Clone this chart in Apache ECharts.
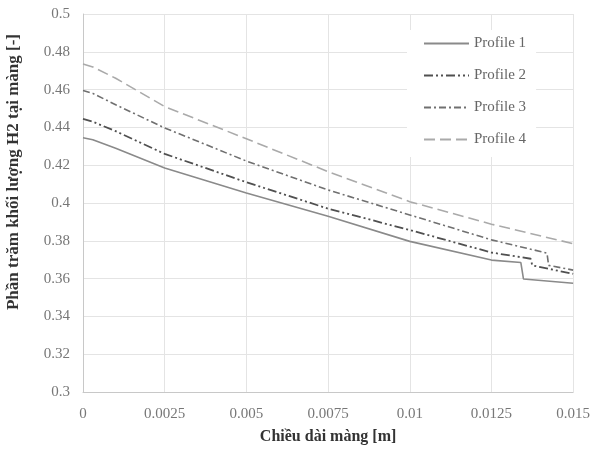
<!DOCTYPE html>
<html><head><meta charset="utf-8">
<script src="https://cdn.jsdelivr.net/npm/echarts@6/dist/echarts.min.js"></script>
<style>html,body{margin:0;padding:0;background:#fff}#c{width:593px;height:454px}</style>
</head><body><div id="c"></div>
<script>
const seriesNames = ['Profile 1', 'Profile 2', 'Profile 3', 'Profile 4'];
const p1X = [0, 0.0003, 0.001, 0.0025, 0.005, 0.0075, 0.01, 0.0125, 0.0134, 0.01348, 0.015];
const p1Y = [0.4345, 0.4335, 0.429, 0.4185, 0.4053, 0.393, 0.3797, 0.3698, 0.3685, 0.3598, 0.3575];
const p2X = [0, 0.0003, 0.001, 0.0025, 0.005, 0.0075, 0.01, 0.0125, 0.0137, 0.01375, 0.015];
const p2Y = [0.4445, 0.443, 0.438, 0.426, 0.411, 0.397, 0.3857, 0.3738, 0.3705, 0.367, 0.3625];
const p3X = [0, 0.0003, 0.001, 0.0025, 0.005, 0.0075, 0.01, 0.0125, 0.0142, 0.01425, 0.015];
const p3Y = [0.4595, 0.458, 0.452, 0.4397, 0.4222, 0.4069, 0.3937, 0.3805, 0.3735, 0.367, 0.3645];
const p4X = [0, 0.0003, 0.001, 0.0025, 0.005, 0.0075, 0.01, 0.0125, 0.015];
const p4Y = [0.4735, 0.472, 0.466, 0.451, 0.434, 0.4166, 0.4007, 0.3888, 0.3785];
const xTicks = [0, 0.0025, 0.005, 0.0075, 0.01, 0.0125, 0.015];
const yTicks = [0.3, 0.32, 0.34, 0.36, 0.38, 0.4, 0.42, 0.44, 0.46, 0.48, 0.5];
const xTitle = 'Chiều dài màng [m]';
const yTitle = 'Phần trăm khối lượng H2 tại màng [-]';

const pair = (xs, ys) => xs.map((x, i) => [x, ys[i]]);
const styles = [
  {color: '#8a8a8a', type: 'solid', width: 1.6},
  {color: '#505050', type: [9, 3, 2, 3, 2, 3], width: 1.8},
  {color: '#707070', type: [7, 3, 2, 3], width: 1.6},
  {color: '#aaaaaa', type: [11, 5], width: 1.6}
];
const datas = [pair(p1X, p1Y), pair(p2X, p2Y), pair(p3X, p3Y), pair(p4X, p4Y)];
const font = 'Liberation Serif';
const chart = echarts.init(document.getElementById('c'));
chart.setOption({
  animation: false,
  grid: {left: 83, right: 18, top: 14, bottom: 62},
  legend: {
    orient: 'vertical', left: 407, top: 30, itemWidth: 45, itemHeight: 14, itemGap: 17,
    backgroundColor: '#fff', padding: [6, 10, 10, 16],
    itemStyle: {opacity: 0},
    textStyle: {fontFamily: font, fontSize: 15, color: '#666'},
    data: seriesNames
  },
  graphic: [{
    type: 'text', x: 14, y: 172, rotation: Math.PI / 2,
    style: {text: yTitle, fontFamily: font, fontSize: 17, fontWeight: 'bold', fill: '#333',
      align: 'center', verticalAlign: 'middle'}
  }],
  xAxis: {
    type: 'value', min: 0, max: 0.015, interval: 0.0025,
    name: xTitle, nameLocation: 'middle', nameGap: 37,
    nameTextStyle: {fontFamily: font, fontSize: 16, fontWeight: 'bold', color: '#333'},
    axisLine: {lineStyle: {color: '#c8c8c8'}}, axisTick: {show: false},
    axisLabel: {fontFamily: font, fontSize: 15, color: '#777', margin: 15,
      formatter: v => String(xTicks.find(t => Math.abs(t - v) < 1e-9) ?? v)},
    splitLine: {show: true, lineStyle: {color: '#e4e4e4'}}
  },
  yAxis: {
    type: 'value', min: 0.3, max: 0.5, interval: 0.02,
    axisLine: {show: true, lineStyle: {color: '#c8c8c8'}}, axisTick: {show: false},
    axisLabel: {fontFamily: font, fontSize: 15, color: '#777', margin: 13,
      formatter: v => { const t = yTicks.find(t => Math.abs(t - v) < 1e-9); return String(+(t ?? v).toFixed(2)); }},
    splitLine: {show: true, lineStyle: {color: '#e4e4e4'}}
  },
  series: seriesNames.map((n, i) => ({
    name: n, type: 'line', data: datas[i], symbol: 'none', smooth: false,
    lineStyle: styles[i], itemStyle: {color: styles[i].color}, z: 5 - i
  }))
});
</script></body></html>
